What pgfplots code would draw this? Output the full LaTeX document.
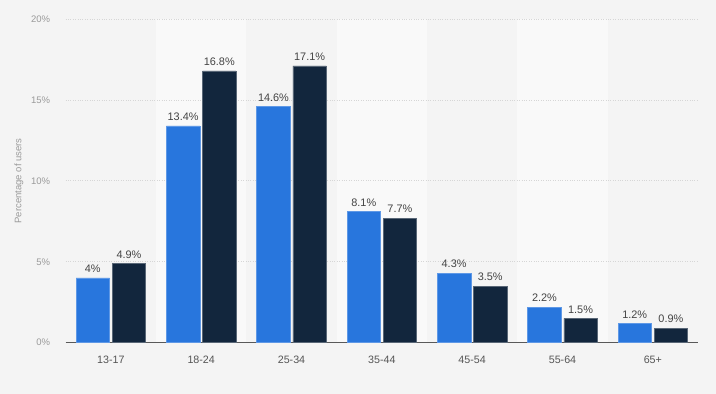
\documentclass[border=0pt]{standalone}
\usepackage{pgfplots}
\pgfplotsset{compat=1.18}
\usepackage{fontspec}
\setmainfont{Liberation Sans}
\definecolor{bg}{HTML}{F4F4F4}
\definecolor{band}{HTML}{F9F9F9}
\definecolor{sblue}{HTML}{2876DD}
\definecolor{sdark}{HTML}{12263D}
\definecolor{ticktxt}{HTML}{9A9A9A}
\definecolor{cattxt}{HTML}{555555}
\definecolor{valtxt}{HTML}{444444}
\pgfplotstableread{
x a b
0 4 4.9
1 13.4 16.8
2 14.6 17.1
3 8.1 7.7
4 4.3 3.5
5 2.2 1.5
6 1.2 0.9
}\datatable
\begin{document}
\begin{tikzpicture}
\fill[bg] (0pt,0pt) rectangle (716pt,394pt);
\path[use as bounding box] (0pt,0pt) rectangle (716pt,394pt);
\fill[band] (156.03pt,51.3pt) rectangle (246.36pt,375pt);
\fill[band] (336.69pt,51.3pt) rectangle (427.01pt,375pt);
\fill[band] (517.34pt,51.3pt) rectangle (607.67pt,375pt);
\begin{axis}[
  at={(65.7pt,51.3pt)}, anchor=south west,
  scale only axis, width=632.3pt, height=323.7pt,
  xmin=-0.5, xmax=6.5, ymin=0, ymax=20,
  axis x line*=bottom, axis y line*=left,
  x axis line style={draw=black!65, line width=1pt},
  y axis line style={draw=none},
  major tick length=0pt,
  xtick={0,...,6},
  xticklabels={13-17,18-24,25-34,35-44,45-54,55-64,65+},
  ytick={0,5,10,15,20},
  yticklabels={0\%,5\%,10\%,15\%,20\%},
  xticklabel style={font=\fontsize{10.7}{12}\selectfont, text=cattxt, yshift=-9.5pt},
  yticklabel style={font=\fontsize{9.5}{11}\selectfont, text=ticktxt, xshift=-12pt},
  ymajorgrids,
  major grid style={dotted, draw=black!16, line width=0.7pt},
  ylabel={Percentage of users},
  every axis y label/.style={at={(axis description cs:-0.074,0.5)}, rotate=90, anchor=center, font=\fontsize{9.5}{11}\selectfont, text=ticktxt},
  ybar, bar width=0.37,
  nodes near coords={\pgfmathprintnumber{\pgfplotspointmeta}\%},
  every node near coord/.append style={font=\fontsize{10.9}{12}\selectfont, text=valtxt, yshift=1.5pt, /pgf/number format/assume math mode=true},
  clip=false,
]
\addplot[fill=sblue, draw=sblue!75!white, line width=0.5pt, bar shift=-0.2] table[x=x,y=a] {\datatable};
\addplot[fill=sdark, draw=sdark!70!white, line width=0.5pt, bar shift=0.2] table[x=x,y=b] {\datatable};
\end{axis}
\end{tikzpicture}
\end{document}
